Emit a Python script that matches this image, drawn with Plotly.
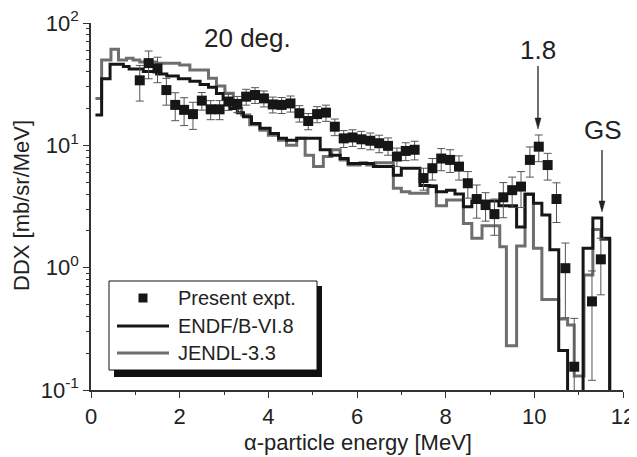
import math
import plotly.graph_objects as go

# ---------------- data ----------------
expt_E = [1.1, 1.3, 1.5, 1.7, 1.9, 2.1, 2.3, 2.5, 2.7, 2.9,
          3.1, 3.3, 3.5, 3.7, 3.9, 4.1, 4.3, 4.5, 4.7, 4.9,
          5.1, 5.3, 5.5, 5.7, 5.9, 6.1, 6.3, 6.5, 6.7, 6.9,
          7.1, 7.3, 7.5, 7.7, 7.9, 8.1, 8.3, 8.5, 8.7, 8.9,
          9.1, 9.3, 9.5, 9.7, 9.9, 10.1, 10.3, 10.5, 10.7, 10.9,
          11.3, 11.5]
expt_ddx = [34, 47, 42.5, 28.3, 21.4, 19.5, 18.0, 23.2, 19.7, 19.7,
            22.8, 21.8, 25.0, 25.8, 24.2, 21.6, 21.4, 22.0, 18.3, 15.8,
            18.0, 18.5, 14.2, 11.4, 11.6, 11.2, 10.9, 10.4, 9.9, 8.1,
            9.0, 9.2, 5.4, 6.5, 7.8, 7.6, 6.7, 4.9, 3.64, 3.25,
            2.74, 3.76, 4.3, 4.6, 7.6, 9.75, 6.9, 3.64, 0.99, 0.155,
            0.53, 1.17]
expt_err = [11, 12, 10, 7, 5.5, 5, 4.5, 3.8, 3.5, 3.5,
            3.5, 3.3, 3.7, 3.8, 3.6, 3.2, 3.2, 3.3, 2.8, 2.4,
            2.7, 2.8, 2.2, 1.8, 1.8, 1.8, 1.7, 1.7, 1.6, 1.4,
            1.5, 1.6, 1.1, 1.3, 1.6, 1.6, 1.5, 1.2, 1.1, 0.85,
            0.9, 1.2, 1.2, 1.5, 2.1, 2.4, 1.7, 1.3, 0.6, 0.23,
            0.41, 0.57]
expt_err_minus = [11, 12, 10, 7, 5.5, 5, 4.5, 3.8, 3.5, 3.5,
                  3.5, 3.3, 3.7, 3.8, 3.6, 3.2, 3.2, 3.3, 2.8, 2.4,
                  2.7, 2.8, 2.2, 1.8, 1.8, 1.8, 1.7, 1.7, 1.6, 1.4,
                  1.5, 1.6, 1.1, 1.3, 1.6, 1.6, 1.5, 1.2, 1.1, 0.85,
                  0.9, 1.2, 1.2, 1.5, 2.1, 2.4, 1.7, 1.3, 0.6, 0.15,
                  0.41, 0.57]

# ENDF/B-VI.8 histogram: bin left edges and values (last edge closes the histogram)
endf_edges = [0.1, 0.24, 0.43, 0.73, 0.86, 1.18, 1.48, 1.71, 1.97, 2.23,
              2.46, 2.65, 2.83, 2.98, 3.13, 3.3, 3.44, 3.62, 3.81, 4.04,
              4.23, 4.41, 4.64, 5.17, 5.39, 5.62, 5.8, 6.37, 6.82, 7.0,
              7.42, 7.64, 7.79, 8.02, 8.21, 8.4, 8.59, 9.2, 9.6, 9.79,
              9.98, 10.17, 10.35, 10.55, 10.75, 11.1, 11.32, 11.52, 11.7, 11.9]
endf_vals = [17.7, 35, 46, 44, 42, 40.2, 38.3, 36.8, 35, 33.4,
             31.4, 29.8, 26.5, 23.8, 20, 18.5, 17.1, 15.1, 13.8, 12.5,
             11.4, 11.0, 11.4, 9.2, 8.3, 7.8, 7.1, 6.7, 5.7, 6.5,
             4.7, 4.6, 4.17, 4.3, 4.0, 3.15, 3.5, 3.2, 2.15, 3.98,
             3.36, 2.7, 1.4, 0.21, 0.01, 1.44, 2.55, 1.74, 0.01]

# JENDL-3.3 histogram
jendl_edges = [0.1, 0.24, 0.45, 0.62, 0.8, 0.95, 1.1, 1.48, 2.0, 2.23,
               2.65, 2.83, 3.02, 3.21, 3.4, 3.58, 3.81, 4.0, 4.23, 4.41,
               4.64, 4.83, 5.02, 5.24, 5.43, 5.62, 5.8, 6.07, 6.22, 6.41,
               6.82, 7.0, 7.19, 7.6, 7.79, 8.02, 8.4, 8.59, 8.82, 9.22,
               9.37, 9.6, 9.79, 9.98, 10.17, 10.55, 10.75, 10.9, 11.12, 11.32,
               11.5, 11.7, 11.9]
jendl_vals = [24.2, 49.8, 61, 49.8, 51.4, 49.8, 48, 46.8, 45.4, 41.3,
              35.3, 30.5, 26.6, 20, 17.7, 14.7, 13.3, 12.1, 11.0, 10.0,
              11.4, 8.3, 6.7, 8.1, 9.2, 7.6, 6.9, 7.2, 6.9, 7.2,
              4.45, 4.17, 4.05, 4.7, 3.2, 3.57, 2.3, 1.74, 2.2, 1.48,
              0.23, 1.5, 4.0, 1.44, 0.55, 0.38, 0.34, 0.13, 0.87, 2.05,
              1.7, 0.01]

x_tickvals = [0, 2, 4, 6, 8, 10, 12]
y_tickvals = [0.1, 1, 10, 100]
y_ticktext = ["10<sup>-1</sup>", "10<sup>0</sup>", "10<sup>1</sup>", "10<sup>2</sup>"]

legend_names = ["Present expt.", "ENDF/B-VI.8", "JENDL-3.3"]

# ---------------- figure ----------------
VIEW_W, VIEW_H = 637, 457
PAGE_OFF = 8                      # default body margin of the html page
PLOT_X0, PLOT_X1 = 91, 623        # plot area in window pixels
PLOT_Y0, PLOT_Y1 = 23, 390
W, H = VIEW_W - PAGE_OFF, VIEW_H - PAGE_OFF
L, T = PLOT_X0 - PAGE_OFF, PLOT_Y0 - PAGE_OFF
R, B = VIEW_W - PLOT_X1, VIEW_H - PLOT_Y1

FONT = "Arial, Liberation Sans, sans-serif"
BLACK = "#161616"
GRAY = "#6e6e6e"
TXT = "#222222"


def px_x(p):
    return (p - PLOT_X0) / (PLOT_X1 - PLOT_X0)


def px_y(p):
    return (PLOT_Y1 - p) / (PLOT_Y1 - PLOT_Y0)


fig = go.Figure()

fig.add_trace(go.Scatter(
    x=jendl_edges, y=jendl_vals + [jendl_vals[-1]], mode="lines",
    line=dict(color=GRAY, width=3, shape="hv"), name=legend_names[2],
    showlegend=False))
fig.add_trace(go.Scatter(
    x=endf_edges, y=endf_vals + [endf_vals[-1]], mode="lines",
    line=dict(color=BLACK, width=3, shape="hv"), name=legend_names[1],
    showlegend=False))
fig.add_trace(go.Scatter(
    x=expt_E, y=expt_ddx, mode="markers", name=legend_names[0],
    marker=dict(symbol="square", size=10, color=BLACK),
    error_y=dict(type="data", array=expt_err, arrayminus=expt_err_minus,
                 color="#555555", thickness=1, width=4),
    showlegend=False))

axis_common = dict(
    showline=True, linecolor="#333333", linewidth=1.5, mirror=False,
    showgrid=False, zeroline=False, ticks="outside", tickcolor="#333333",
    tickwidth=1.2, ticklen=6, automargin=False, ticklabeloverflow="allow",
    tickfont=dict(family=FONT, size=22, color=TXT),
)

fig.update_xaxes(
    range=[0, 12], tickvals=x_tickvals, ticktext=[str(v) for v in x_tickvals],
    minor=dict(tickvals=[1, 3, 5, 7, 9, 11], ticks="outside", ticklen=3,
               tickcolor="#333333", tickwidth=1.2),
    **axis_common)

minor_y = [m * 10 ** d for d in (-1, 0, 1) for m in range(2, 10)]
fig.update_yaxes(
    type="log", range=[-1, 2], tickvals=y_tickvals, ticktext=y_ticktext,
    minor=dict(tickvals=minor_y, ticks="outside", ticklen=3,
               tickcolor="#333333", tickwidth=1.2),
    **axis_common)

# axis titles
fig.add_annotation(x=px_x(358), y=px_y(442), xref="paper", yref="paper",
                   xanchor="center", yanchor="middle",
                   text="α-particle energy [MeV]", showarrow=False,
                   font=dict(family=FONT, size=22, color=TXT))
fig.add_annotation(x=px_x(21), y=px_y(206), xref="paper", yref="paper",
                   xanchor="center", yanchor="middle",
                   text="DDX [mb/sr/MeV]", showarrow=False, textangle=-90,
                   font=dict(family=FONT, size=22, color=TXT))

# text labels
fig.add_annotation(x=3.52, y=math.log10(75), xref="x", yref="y", text="20 deg.",
                   xanchor="center", yanchor="middle",
                   showarrow=False, font=dict(family=FONT, size=26, color=TXT))
fig.add_annotation(x=10.08, y=math.log10(60), xref="x", yref="y", text="1.8",
                   xanchor="center", yanchor="middle",
                   showarrow=False, font=dict(family=FONT, size=26, color=TXT))
fig.add_annotation(x=11.55, y=math.log10(13.3), xref="x", yref="y", text="GS",
                   xanchor="center", yanchor="middle",
                   showarrow=False, font=dict(family=FONT, size=26, color=TXT))


def arrow_shapes(xp, y_top, y_tip):
    x = px_x(xp)
    head = 11
    half = 3
    return [
        dict(type="line", xref="paper", yref="paper", x0=x, x1=x,
             y0=px_y(y_top), y1=px_y(y_tip - head + 1),
             line=dict(color=TXT, width=1.3)),
        dict(type="path", xref="paper", yref="paper",
             path="M {a},{b} L {c},{b} L {d},{e} Z".format(
                 a=px_x(xp - half), c=px_x(xp + half), b=px_y(y_tip - head),
                 d=x, e=px_y(y_tip)),
             fillcolor=TXT, line=dict(color=TXT, width=0.5)),
    ]


# hand-drawn legend box with shadow
shapes = [
    dict(type="rect", xref="paper", yref="paper",
         x0=px_x(114), x1=px_x(322), y0=px_y(377), y1=px_y(286),
         fillcolor="#111111", line=dict(width=0)),
    dict(type="rect", xref="paper", yref="paper",
         x0=px_x(109), x1=px_x(317), y0=px_y(370), y1=px_y(281),
         fillcolor="white", line=dict(color="#111111", width=1)),
    dict(type="rect", xref="paper", yref="paper",
         x0=px_x(138.5), x1=px_x(147.5), y0=px_y(302.5), y1=px_y(293.5),
         fillcolor=BLACK, line=dict(width=0)),
    dict(type="line", xref="paper", yref="paper",
         x0=px_x(117), x1=px_x(169), y0=px_y(326), y1=px_y(326),
         line=dict(color=BLACK, width=3)),
    dict(type="line", xref="paper", yref="paper",
         x0=px_x(117), x1=px_x(169), y0=px_y(353), y1=px_y(353),
         line=dict(color=GRAY, width=3)),
]
shapes += arrow_shapes(538, 66, 129)
shapes += arrow_shapes(602, 150, 212)
fig.update_layout(shapes=shapes)
for name, yy in zip(legend_names, (298, 326, 353)):
    fig.add_annotation(x=px_x(176), y=px_y(yy), xref="paper", yref="paper",
                       text=name, showarrow=False, xanchor="left", yanchor="middle",
                       font=dict(family=FONT, size=20, color=TXT))

fig.update_layout(
    width=W, height=H, autosize=False,
    margin=dict(l=L, r=R, t=T, b=B),
    paper_bgcolor="white", plot_bgcolor="white",
    showlegend=False,
)

fig.write_html("out.html")
